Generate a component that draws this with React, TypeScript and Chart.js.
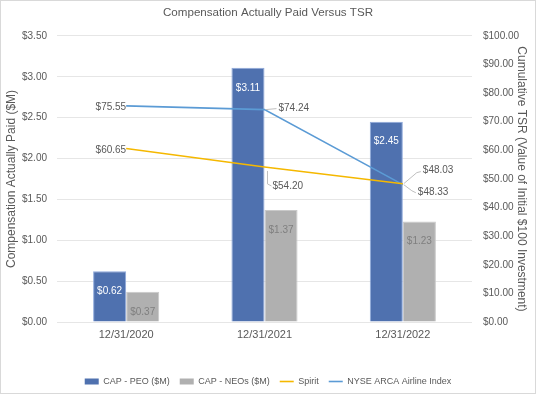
import React, { useEffect, useRef } from "react";
import { Chart, registerables } from "chart.js";

Chart.register(...registerables);

const categories = ["12/31/2020", "12/31/2021", "12/31/2022"];
const capPeo = [0.62, 3.11, 2.45];
const capNeos = [0.37, 1.37, 1.23];
const spirit = [60.65, 54.2, 48.33];
const nyse = [75.55, 74.24, 48.03];
const leftTicks = [0, 0.5, 1, 1.5, 2, 2.5, 3, 3.5];
const rightTicks = [0, 10, 20, 30, 40, 50, 60, 70, 80, 90, 100];

const FONT = "'Liberation Sans', Arial, sans-serif";
const TEXT = "#595959";

// label placement (pixel offsets relative to each point)
const spiritLabelPos = [
  { dx: 0, dy: 2, align: "right", leader: null },
  { dx: 8, dy: 19, align: "left", leader: [[3, 4], [3, 17], [7, 19]] },
  { dx: 15, dy: 9, align: "left", leader: [[1, 1], [9, 7], [13, 9]] },
];
const nyseLabelPos = [
  { dx: 0, dy: 1, align: "right", leader: null },
  { dx: 14, dy: -1, align: "left", leader: [[1, 0], [12, -1]] },
  { dx: 20, dy: -14, align: "left", leader: [[1, -1], [14, -12], [18, -13]] },
];

const labelPlugin = {
  id: "valueLabels",
  afterDatasetsDraw(chart: any) {
    const ctx = chart.ctx;
    ctx.save();
    ctx.font = `10px ${FONT}`;
    ctx.textBaseline = "middle";
    chart.data.datasets.forEach((ds: any, di: number) => {
      const meta = chart.getDatasetMeta(di);
      if (meta.hidden) return;
      meta.data.forEach((el: any, i: number) => {
        const v = ds.data[i] as number;
        const text = "$" + v.toFixed(2);
        if (ds.type === "line") {
          const p = ds.labelPos[i];
          if (p.leader) {
            ctx.strokeStyle = "#BFBFBF";
            ctx.lineWidth = 1;
            ctx.beginPath();
            p.leader.forEach((pt: number[], k: number) => {
              const px = el.x + pt[0];
              const py = el.y + pt[1];
              if (k === 0) ctx.moveTo(px, py);
              else ctx.lineTo(px, py);
            });
            ctx.stroke();
          }
          ctx.fillStyle = TEXT;
          ctx.textAlign = p.align;
          ctx.fillText(text, el.x + p.dx, el.y + p.dy);
        } else {
          ctx.fillStyle = ds.labelColor;
          ctx.textAlign = "center";
          ctx.fillText(text, el.x, el.y + 20);
        }
      });
    });
    ctx.restore();
  },
};

export default function App() {
  const ref = useRef<HTMLCanvasElement>(null);
  useEffect(() => {
    if (!ref.current) return;
    const chart = new Chart(ref.current, {
      type: "bar",
      data: {
        labels: categories,
        datasets: [
          {
            type: "bar",
            label: "CAP - PEO ($M)",
            data: capPeo,
            backgroundColor: "#4F71AF",
            borderColor: "#8EA9DB",
            borderWidth: 1,
            yAxisID: "y",
            order: 2,
            labelColor: "#FFFFFF",
          } as any,
          {
            type: "bar",
            label: "CAP - NEOs ($M)",
            data: capNeos,
            backgroundColor: "#B0B0B0",
            borderColor: "#C9C9C9",
            borderWidth: 1,
            yAxisID: "y",
            order: 2,
            labelColor: "#7F7F7F",
          } as any,
          {
            type: "line",
            label: "Spirit",
            data: spirit,
            borderColor: "#F5B800",
            backgroundColor: "#F5B800",
            borderWidth: 1.6,
            pointRadius: 0,
            tension: 0,
            yAxisID: "y1",
            order: 1,
            labelPos: spiritLabelPos,
          } as any,
          {
            type: "line",
            label: "NYSE ARCA Airline Index",
            data: nyse,
            borderColor: "#5B9BD5",
            backgroundColor: "#5B9BD5",
            borderWidth: 1.6,
            pointRadius: 0,
            tension: 0,
            yAxisID: "y1",
            order: 1,
            labelPos: nyseLabelPos,
          } as any,
        ],
      },
      options: {
        responsive: false,
        animation: false,
        devicePixelRatio: 1,
        layout: { padding: { top: 0, bottom: -3, left: 0, right: 0 } },
        datasets: {
          bar: { categoryPercentage: 0.478, barPercentage: 1 },
        } as any,
        plugins: {
          title: {
            display: true,
            text: "Compensation Actually Paid Versus TSR",
            color: TEXT,
            font: { family: FONT, size: 11.6, weight: "normal" },
            padding: { top: 5, bottom: 16 },
          },
          legend: {
            position: "bottom",
            sort: (a: any, b: any) => a.datasetIndex - b.datasetIndex,
            labels: {
              color: TEXT,
              font: { family: FONT, size: 9 },
              usePointStyle: true,
              pointStyleWidth: 14,
              boxHeight: 6,
              padding: 10,
              generateLabels: (chart: any) =>
                chart.data.datasets.map((ds: any, i: number) => ({
                  text: ds.label,
                  fillStyle: ds.backgroundColor,
                  strokeStyle: ds.type === "line" ? ds.borderColor : ds.backgroundColor,
                  lineWidth: ds.type === "line" ? 1.6 : 0,
                  pointStyle: ds.type === "line" ? "line" : "rect",
                  datasetIndex: i,
                  hidden: false,
                  fontColor: TEXT,
                })),
            },
          },
          tooltip: { enabled: false },
        },
        scales: {
          x: {
            grid: { display: false, drawTicks: false },
            border: { display: false },
            afterFit: (s: any) => {
              s.height = 45;
            },
            ticks: { color: TEXT, font: { family: FONT, size: 11 }, padding: 6 },
          },
          y: {
            position: "left",
            min: 0,
            max: 3.5,
            afterBuildTicks: (s: any) => {
              s.ticks = leftTicks.map((v) => ({ value: v }));
            },
            afterFit: (s: any) => {
              s.width = 56;
            },
            grid: { color: "#E6E6E6", drawTicks: false },
            border: { display: false },
            ticks: {
              color: TEXT,
              font: { family: FONT, size: 10 },
              padding: 10,
              callback: (v: any) => "$" + Number(v).toFixed(2),
            },
            title: {
              display: true,
              text: "Compensation Actually Paid ($M)",
              color: TEXT,
              font: { family: FONT, size: 12 },
              padding: { top: 3, bottom: 0 },
            },
          },
          y1: {
            position: "right",
            min: 0,
            max: 100,
            afterBuildTicks: (s: any) => {
              s.ticks = rightTicks.map((v) => ({ value: v }));
            },
            afterFit: (s: any) => {
              s.width = 63;
            },
            grid: { display: false, drawTicks: false },
            border: { display: false },
            ticks: {
              color: TEXT,
              font: { family: FONT, size: 10 },
              padding: 11,
              callback: (v: any) => "$" + Number(v).toFixed(2),
            },
            title: {
              display: true,
              text: "Cumulative TSR (Value of Initial $100 Investment)",
              color: TEXT,
              font: { family: FONT, size: 12 },
              padding: { top: 6, bottom: 0 },
            },
          },
        },
      },
      plugins: [labelPlugin],
    });
    return () => chart.destroy();
  }, []);
  return (
    <div
      style={{
        position: "fixed",
        left: 0,
        top: 0,
        width: 536,
        height: 394,
        boxSizing: "border-box",
        border: "1px solid #D9D9D9",
        background: "#fff",
      }}
    >
      <canvas ref={ref} width={534} height={392} style={{ display: "block" }} />
    </div>
  );
}
